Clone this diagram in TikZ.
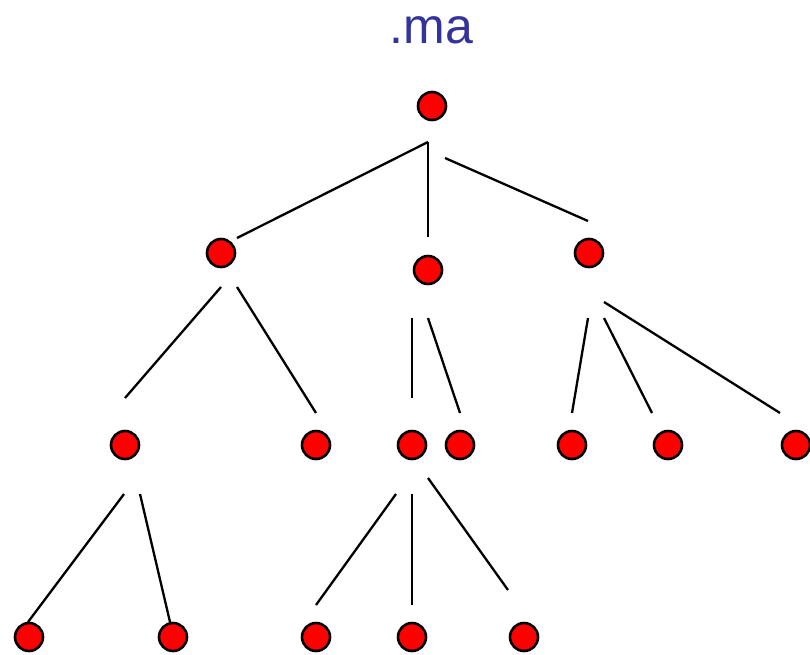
\documentclass[tikz,border=0pt]{standalone}
\usepackage{fontspec}
\setmainfont{Liberation Sans}
\definecolor{titleblue}{RGB}{51,51,153}
\definecolor{dotred}{RGB}{255,0,0}
\tikzset{
  dot/.style={circle, draw=black, fill=dotred, line width=2.6pt, minimum size=28pt, inner sep=0pt},
  branch/.style={line width=2.3pt, black, line cap=butt},
}
\begin{document}
\begin{tikzpicture}[x=1pt,y=-1pt]
\useasboundingbox (0,0) rectangle (810,654);
\node[anchor=base, text=titleblue, font=\fontsize{50}{56}\selectfont, inner sep=0pt] (title) at (431.5,43) {.ma};

% tree nodes
\node[dot] (r) at (432,106) {};
\node[dot] (a) at (221,253) {};
\node[dot] (b) at (428,270) {};
\node[dot] (c) at (589,253) {};
\node[dot] (d) at (125,445) {};
\node[dot] (e) at (316,445) {};
\node[dot] (f) at (412,445) {};
\node[dot] (g) at (460,445) {};
\node[dot] (h) at (572,445) {};
\node[dot] (i) at (668,445) {};
\node[dot] (j) at (796,445) {};
\node[dot] (k) at (29,637) {};
\node[dot] (l) at (173,637) {};
\node[dot] (m) at (316,637) {};
\node[dot] (n) at (412,637) {};
\node[dot] (o) at (524,637) {};

% free-standing ends of the branch lines
\coordinate (r1) at (428,142);
\coordinate (r2) at (445,158);
\coordinate (ra) at (237,238);
\coordinate (rb) at (428,237);
\coordinate (rc) at (588,221);
\coordinate (a1) at (221,287);
\coordinate (a2) at (237,287);
\coordinate (ad) at (125,398);
\coordinate (ae) at (316,413);
\coordinate (b1) at (412,318);
\coordinate (b2) at (428,318);
\coordinate (bf) at (412,398);
\coordinate (bg) at (460,413);
\coordinate (c1) at (588,318);
\coordinate (c2) at (604,318);
\coordinate (c3) at (604,302);
\coordinate (ch) at (572,413);
\coordinate (ci) at (652,413);
\coordinate (cj) at (780,413);
\coordinate (d1) at (124,494);
\coordinate (d2) at (140,494);
\coordinate (dk) at (28,622);
\coordinate (dl) at (170,622);
\coordinate (f1) at (396,494);
\coordinate (f2) at (412,494);
\coordinate (f3) at (428,478);
\coordinate (fm) at (316,605);
\coordinate (fn) at (412,605);
\coordinate (fo) at (508,590);

\draw[branch] (r1) -- (ra);
\draw[branch] (r1) -- (rb);
\draw[branch] (r2) -- (rc);
\draw[branch] (a1) -- (ad);
\draw[branch] (a2) -- (ae);
\draw[branch] (b1) -- (bf);
\draw[branch] (b2) -- (bg);
\draw[branch] (c1) -- (ch);
\draw[branch] (c2) -- (ci);
\draw[branch] (c3) -- (cj);
\draw[branch] (d1) -- (dk);
\draw[branch] (d2) -- (dl);
\draw[branch] (f1) -- (fm);
\draw[branch] (f2) -- (fn);
\draw[branch] (f3) -- (fo);
\end{tikzpicture}
\end{document}
